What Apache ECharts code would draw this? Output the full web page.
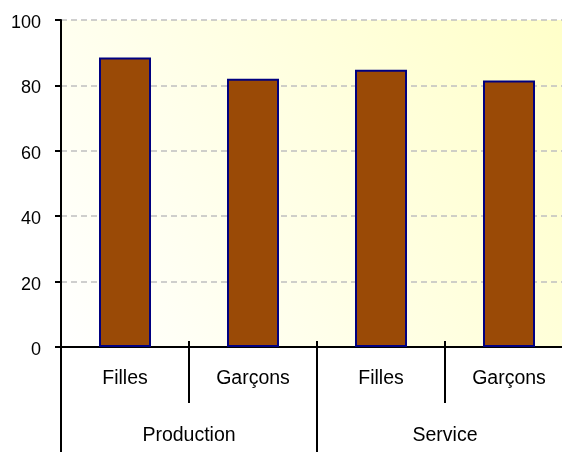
<!DOCTYPE html>
<html><head><meta charset="utf-8">
<script src="https://cdn.jsdelivr.net/npm/echarts@6/dist/echarts.min.js"></script>
<style>html,body{margin:0;padding:0;background:#fff}#c{width:562px;height:452px}</style>
</head><body><div id="c"></div>
<script>
var categories = ['Filles', 'Garçons', 'Filles', 'Garçons'];
var groups = ['Production', 'Service'];
var values = [88.5, 82, 84.8, 81.5];
var yTicks = {min: 0, max: 100, interval: 20};

var chart = echarts.init(document.getElementById('c'));
var font = 'Liberation Sans, Arial, sans-serif';
chart.setOption({
  animation: false,
  grid: {
    left: 61, top: 20, width: 512, height: 327,
    outerBoundsMode: 'none', containLabel: false,
    show: true, borderWidth: 0,
    backgroundColor: new echarts.graphic.LinearGradient(0, 1, 1, 0, [
      {offset: 0, color: '#ffffff'},
      {offset: 1, color: '#ffffc8'}
    ])
  },
  xAxis: [
    {
      type: 'category', data: categories, position: 'bottom',
      axisLine: {lineStyle: {color: '#000', width: 2}},
      axisTick: {show: true, length: 56, lineStyle: {color: '#000', width: 2}},
      axisLabel: {color: '#000', fontSize: 19.5, fontFamily: font, margin: 22}
    },
    {
      type: 'category', data: categories, position: 'bottom',
      axisLine: {show: false},
      axisTick: {show: true, inside: true, length: 6, lineStyle: {color: '#000', width: 2}},
      axisLabel: {show: false}
    },
    {
      type: 'category', data: groups, position: 'bottom', offset: 56,
      axisLine: {show: false},
      axisTick: {show: true, length: 52, lineStyle: {color: '#000', width: 2}},
      axisLabel: {color: '#000', fontSize: 19.5, fontFamily: font, margin: 23}
    }
  ],
  yAxis: {
    type: 'value', min: yTicks.min, max: yTicks.max, interval: yTicks.interval,
    axisLine: {show: true, lineStyle: {color: '#000', width: 2}},
    axisTick: {show: true, length: 6, lineStyle: {color: '#000', width: 2}},
    axisLabel: {
      color: '#000', fontSize: 18, fontFamily: font, margin: 20,
      formatter: '{a|{value}}',
      rich: {a: {color: '#000', fontSize: 18, fontFamily: font, padding: [6, 0, 0, 0]}}
    },
    splitLine: {show: true, lineStyle: {color: '#c0c0c0', type: [6, 4], width: 1.5}}
  },
  series: [{
    type: 'bar', data: values, xAxisIndex: 0, barWidth: 52,
    itemStyle: {color: '#9a4a06', borderColor: '#000080', borderWidth: 2}
  }]
});
</script></body></html>
